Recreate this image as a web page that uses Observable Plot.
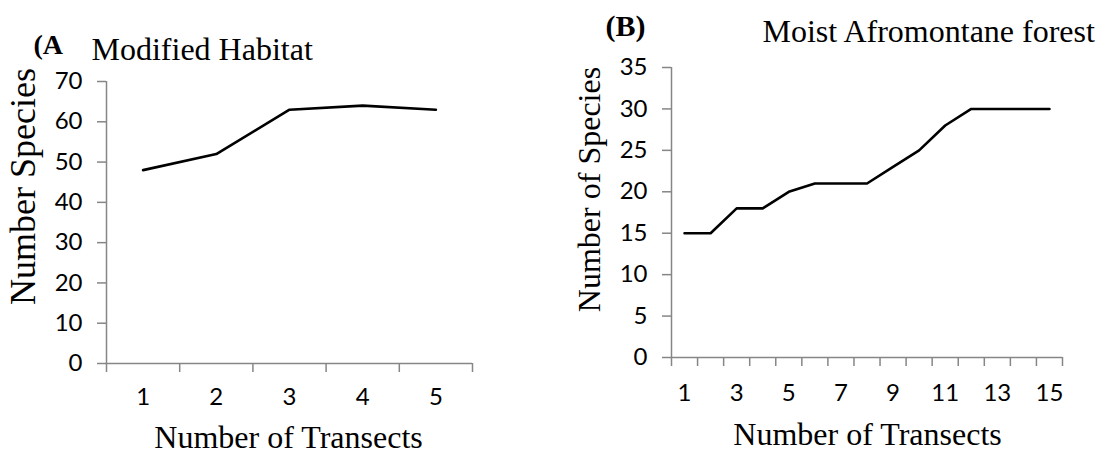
<!DOCTYPE html>
<html><head><meta charset="utf-8">
<script src="https://cdn.jsdelivr.net/npm/d3@7"></script>
<script src="https://cdn.jsdelivr.net/npm/@observablehq/plot@0.6"></script>
<style>
body{margin:0;background:#fff;}
#wrap{position:relative;width:1097px;height:454px;display:flex;background:#fff;}
#wrap svg{display:block;}
</style></head><body><div id="wrap"></div>
<script>
// ---- data ----
const transectsA = [1, 2, 3, 4, 5];
const speciesA = [48, 52, 63, 64, 63];
const transectsB = [1, 2, 3, 4, 5, 6, 7, 8, 9, 10, 11, 12, 13, 14, 15];
const speciesB = [15, 15, 18, 18, 20, 21, 21, 21, 23, 25, 28, 30, 30, 30, 30];
const yTicksA = [0, 10, 20, 30, 40, 50, 60, 70];
const yTicksB = [0, 5, 10, 15, 20, 25, 30, 35];
const xLabelsA = [1, 2, 3, 4, 5];
const xLabelsB = [1, 3, 5, 7, 9, 11, 13, 15];
const panelTagA = "(A";
const panelTagB = "(B)";
const titleA = "Modified Habitat";
const titleB = "Moist Afromontane forest";
const yTitleA = "Number Species";
const yTitleB = "Number of Species";
const xTitle = "Number of Transects";

const AXIS = "#868686";
const SERIF = "Liberation Serif, Times New Roman, serif";
const SANS = "Lato, Carlito, Calibri, sans-serif";
const TICK_FS = 24;

function panel(cfg) {
  const {width, mL, mR, mT, mB, xs, ys, yMax, yTicks, xLabels, xPad, texts} = cfg;
  const n = xs.length;
  const data = xs.map((x, i) => ({x, y: ys[i]}));
  const edges = d3.range(0, n + 1).map(i => i + 0.5);
  const textMarks = texts.map(t => Plot.text([t.s], {
    frameAnchor: "top-left",
    dx: t.x - mL, dy: t.y - mT,
    text: d => d,
    textAnchor: t.anchor || "start",
    lineAnchor: "middle",
    rotate: t.rotate || 0,
    fontFamily: SERIF,
    fontSize: t.size,
    fontWeight: t.bold ? "bold" : "normal",
    fill: "black"
  }));
  return Plot.plot({
    width, height: 454,
    marginLeft: mL, marginRight: mR, marginTop: mT, marginBottom: mB,
    x: {type: "linear", domain: [0.5, n + 0.5], axis: null},
    y: {type: "linear", domain: [0, yMax], axis: null},
    style: {fontFamily: SANS, fontSize: TICK_FS + "px", background: "white", overflow: "visible"},
    marks: [
      Plot.axisY({ticks: yTicks, tickSize: 9, tickPadding: 15, tickFormat: d => String(d), stroke: AXIS, strokeWidth: 1.5, fill: "black", fontSize: TICK_FS, fontFamily: SANS, label: null}),
      Plot.axisX({ticks: edges, tickSize: 9, tickFormat: () => "", stroke: AXIS, strokeWidth: 1.5, label: null}),
      Plot.axisX({ticks: xLabels, tickSize: 0, tickPadding: xPad, tickFormat: d => String(d), fill: "black", fontSize: TICK_FS, fontFamily: SANS, label: null}),
      Plot.ruleX([0.5], {stroke: AXIS, strokeWidth: 1.5}),
      Plot.ruleY([0], {stroke: AXIS, strokeWidth: 1.5}),
      Plot.line(data, {x: "x", y: "y", stroke: "black", strokeWidth: 2.6}),
      ...textMarks
    ]
  });
}

const wrap = document.getElementById("wrap");

wrap.append(panel({
  width: 548, mL: 106, mR: 76, mT: 81, mB: 91,
  xs: transectsA, ys: speciesA, yMax: 70, yTicks: yTicksA, xLabels: xLabelsA, xPad: 24,
  texts: [
    {s: panelTagA, x: 33, y: 45, size: 28, bold: true},
    {s: titleA, x: 91, y: 49, size: 32},
    {s: yTitleA, x: 23, y: 186, size: 36, rotate: -90, anchor: "middle"},
    {s: xTitle, x: 288, y: 437, size: 32, anchor: "middle"}
  ]
}));

wrap.append(panel({
  width: 549, mL: 123, mR: 35, mT: 67, mB: 97,
  xs: transectsB, ys: speciesB, yMax: 35, yTicks: yTicksB, xLabels: xLabelsB, xPad: 26,
  texts: [
    {s: panelTagB, x: 57, y: 26, size: 30, bold: true},
    {s: titleB, x: 214, y: 31, size: 32},
    {s: yTitleB, x: 41, y: 189, size: 32, rotate: -90, anchor: "middle"},
    {s: xTitle, x: 319, y: 434, size: 32, anchor: "middle"}
  ]
}));
</script>
</body></html>
